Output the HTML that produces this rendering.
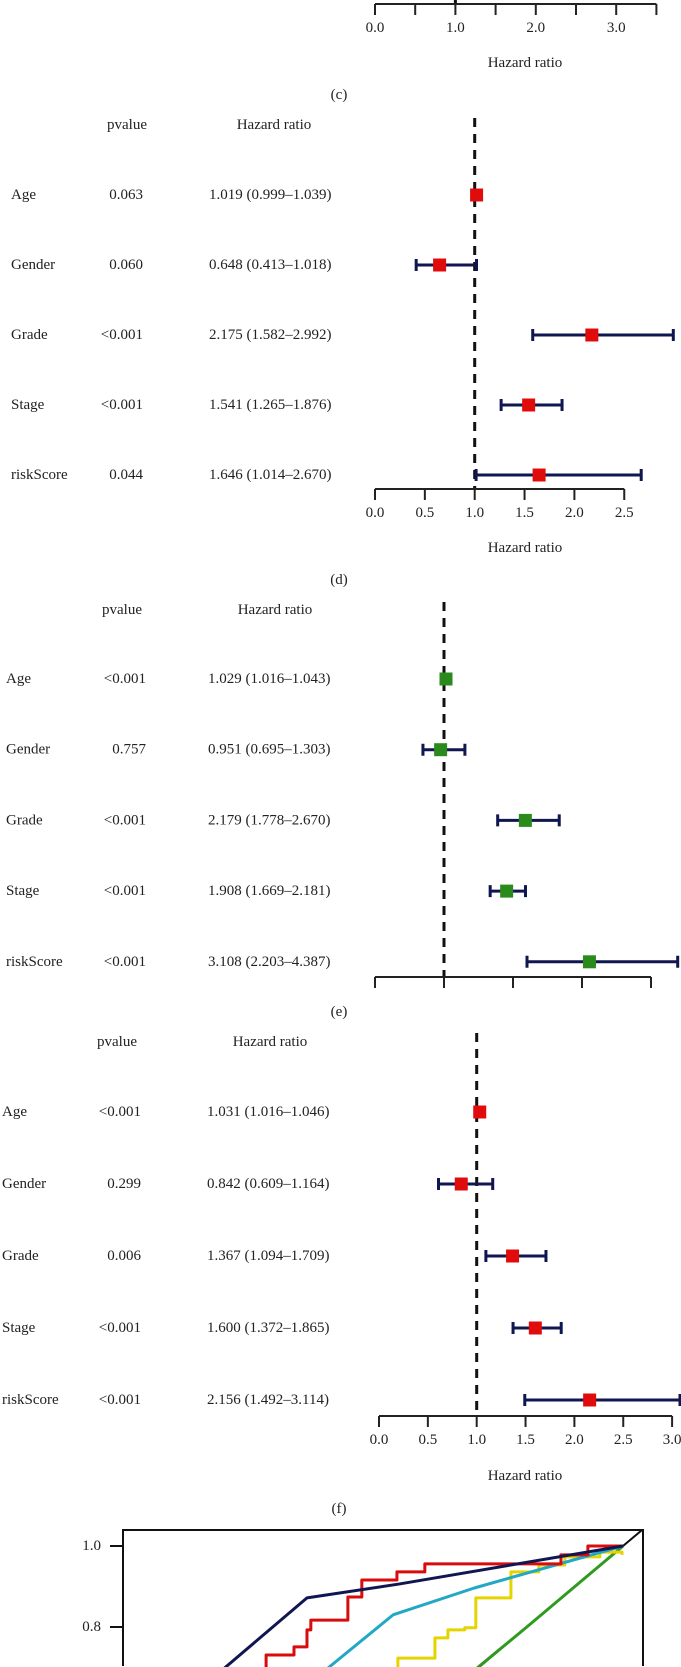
<!DOCTYPE html>
<html><head><meta charset="utf-8">
<style>
html,body{margin:0;padding:0;background:#fff;overflow:hidden;width:681px;height:1667px;}
svg{display:block;overflow:hidden;}
text{font-family:"Liberation Serif",serif;font-size:15px;fill:#222;}
</style></head>
<body>
<svg id="fig" width="681" height="1667" viewBox="0 0 681 1667" xmlns="http://www.w3.org/2000/svg"></svg>
<script>
// ---- Panel (d) data ----
const dVars = ["Age","Gender","Grade","Stage","riskScore"];
const dP = ["0.063","0.060","<0.001","<0.001","0.044"];
const dHR = [1.019,0.648,2.175,1.541,1.646];
const dLo = [0.999,0.413,1.582,1.265,1.014];
const dHi = [1.039,1.018,2.992,1.876,2.670];
const dTicks = [0,0.5,1,1.5,2,2.5];
const dTickLabels = ["0.0","0.5","1.0","1.5","2.0","2.5"];
// ---- Panel (e) data ----
const eVars = ["Age","Gender","Grade","Stage","riskScore"];
const eP = ["<0.001","0.757","<0.001","<0.001","<0.001"];
const eHR = [1.029,0.951,2.179,1.908,3.108];
const eLo = [1.016,0.695,1.778,1.669,2.203];
const eHi = [1.043,1.303,2.670,2.181,4.387];
const eTicks = [0,1,2,3,4];
const eTickLabels = [];
// ---- Panel (f) data ----
const fVars = ["Age","Gender","Grade","Stage","riskScore"];
const fP = ["<0.001","0.299","0.006","<0.001","<0.001"];
const fHR = [1.031,0.842,1.367,1.600,2.156];
const fLo = [1.016,0.609,1.094,1.372,1.492];
const fHi = [1.046,1.164,1.709,1.865,3.114];
const fTicks = [0,0.5,1,1.5,2,2.5,3];
const fTickLabels = ["0.0","0.5","1.0","1.5","2.0","2.5","3.0"];
// ---- Panel (c) axis only ----
const cTicks = [0,0.5,1,1.5,2,2.5,3,3.5];
const cTickLabels = ["0.0","","1.0","","2.0","","3.0",""];
// ---- ROC data (fpr / tpr) ----
const rocNavyX = [0.163,0.343,0.534,1];
const rocNavyY = [0.69,0.872,0.906,1];
const rocRedX = [0.258,0.258,0.316,0.343,0.351,0.428,0.457,0.530,0.588,0.871,0.927,1];
const rocRedY = [0.69,0.731,0.751,0.793,0.817,0.874,0.916,0.936,0.956,0.978,1,1];
const rocCyanX = [0.378,0.389,0.522,0.69,1];
const rocCyanY = [0.69,0.701,0.830,0.896,1];
const rocYellowX = [0.499,0.532,0.549,0.609,0.636,0.671,0.694,0.717,0.767,0.825,0.879,0.952,0.998];
const rocYellowY = [0.69,0.723,0.723,0.773,0.793,0.798,0.872,0.872,0.936,0.953,0.973,0.985,0.978];
const rocGreenX = [0.69,0.699,0.8,0.9,1];
const rocGreenY = [0.69,0.701,0.8,0.9,1];
const rocYTicks = [0.8,1.0];
const rocYTickLabels = ["0.8","1.0"];

const NS="http://www.w3.org/2000/svg";
const svg=document.getElementById('fig');
function mk(tag,attrs,parent){const e=document.createElementNS(NS,tag);for(const k in attrs)e.setAttribute(k,attrs[k]);(parent||svg).appendChild(e);return e;}
function txt(s,x,y,anchor,parent){const t=mk('text',{x:x,y:y,'text-anchor':anchor||'start','dominant-baseline':'central'},parent);t.textContent=s;return t;}
const NAVY="#101650",RED="#e00c0c",GREEN="#2b8a1c";

function forest(cfg){
  const g=mk('g',{});
  
  
  const sx=v=>cfg.x0+v*cfg.unit;
  if(cfg.vars){
    const h1=txt("pvalue",cfg.pvHeadX,cfg.headY,'middle',g);
    
    
    const h2=txt("Hazard ratio",cfg.hrHeadX,cfg.headY,'middle',g);
    
    
    cfg.vars.forEach((v,i)=>{
      const y=cfg.rowY0+i*cfg.rowStep;
      const a=txt(v,cfg.labX,y,'start',g);
      
      
      const b=txt(cfg.p[i],cfg.pvRight,y,'end',g);
      
      
      const c=txt(cfg.hr[i].toFixed(3)+" ("+cfg.lo[i].toFixed(3)+"\u2013"+cfg.hi[i].toFixed(3)+")",cfg.hrX,y,'start',g);
      
      
    });
  }
  const dl=mk('line',{x1:sx(1),x2:sx(1),y1:cfg.dashTop,y2:cfg.axisY,stroke:'#111','stroke-width':3,'stroke-dasharray':'9,7'},g);
  
  
  if(cfg.vars){
    cfg.vars.forEach((v,i)=>{
      const y=cfg.rowY0+i*cfg.rowStep;
      const lo=sx(cfg.lo[i]),hi=Math.min(sx(cfg.hi[i]),680);
      const ci=mk('path',{d:`M${lo},${y}H${hi}M${lo},${y-6}V${y+6}M${hi},${y-6}V${y+6}`,stroke:NAVY,'stroke-width':3,fill:'none'},g);
      
      
      const sq=mk('rect',{x:sx(cfg.hr[i])-6.5,y:y-6.5,width:13,height:13,fill:cfg.color},g);
      
      
    });
  }
  const t0=sx(cfg.ticks[0]),t1=sx(cfg.ticks[cfg.ticks.length-1]);
  let d=`M${t0},${cfg.axisY}H${t1}`;
  cfg.ticks.forEach(t=>{d+=`M${sx(t)},${cfg.axisY}V${cfg.axisY+11}`;});
  const ax=mk('path',{d:d,stroke:'#222','stroke-width':2,fill:'none'},g);
  
  
  cfg.tickLabels.forEach((l,i)=>{ if(l){const t=txt(l,sx(cfg.ticks[i]),cfg.axisY+24,'middle',g);
    
    }});
  if(cfg.titleY){const t=txt("Hazard ratio",525,cfg.titleY,'middle',g);
    
    }
  if(cfg.panel){const t=txt(cfg.panel,339,cfg.panelY,'middle',g);
    
    }
}

forest({name:'forest-c',x0:375,unit:80.4,axisY:4,dashTop:0,ticks:cTicks,tickLabels:cTickLabels,titleY:63,panel:"(c)",panelY:95,color:RED});
forest({name:'forest-d',vars:dVars,p:dP,hr:dHR,lo:dLo,hi:dHi,x0:375,unit:99.7,axisY:489,dashTop:118,ticks:dTicks,tickLabels:dTickLabels,
  headY:125,pvHeadX:127,hrHeadX:274,rowY0:195,rowStep:70,labX:11,pvRight:143,hrX:209,titleY:548,panel:"(d)",panelY:580,color:RED});
forest({name:'forest-e',vars:eVars,p:eP,hr:eHR,lo:eLo,hi:eHi,x0:375,unit:69,axisY:977,dashTop:602,ticks:eTicks,tickLabels:eTickLabels,
  headY:610,pvHeadX:122,hrHeadX:275,rowY0:679,rowStep:70.7,labX:6,pvRight:146,hrX:208,titleY:0,panel:"(e)",panelY:1012,color:GREEN});
forest({name:'forest-f',vars:fVars,p:fP,hr:fHR,lo:fLo,hi:fHi,x0:379,unit:97.7,axisY:1416,dashTop:1033,ticks:fTicks,tickLabels:fTickLabels,
  headY:1042,pvHeadX:117,hrHeadX:270,rowY0:1112,rowStep:72,labX:2,pvRight:141,hrX:207,titleY:1476,panel:"(f)",panelY:1509,color:RED});

// ---- ROC ----
const rx=v=>142+v*481, ry=v=>1951-v*405;
const roc=mk('g',{});


const cp=mk('clipPath',{id:'rc'},roc);
mk('rect',{x:123,y:1530,width:520,height:137},cp);
const cg=mk('g',{'clip-path':'url(#rc)'},roc);
const diag=mk('line',{x1:rx(0.69),y1:ry(0.69),x2:rx(1.04),y2:ry(1.04),stroke:'#111','stroke-width':2},cg);


function poly(xs,ys,col,name,step){
  let d=`M${rx(xs[0])},${ry(ys[0])}`;
  for(let i=1;i<xs.length;i++){
    if(step){d+=`H${rx(xs[i])}V${ry(ys[i])}`;}else{d+=`L${rx(xs[i])},${ry(ys[i])}`;}
  }
  const p=mk('path',{d:d,stroke:col,'stroke-width':3,fill:'none','stroke-linejoin':'round'},cg);
  
  
}
poly(rocGreenX,rocGreenY,'#2e9a1e','roc-green');
poly(rocYellowX,rocYellowY,'#e6d400','roc-yellow',true);
poly(rocCyanX,rocCyanY,'#22a8c4','roc-cyan');
poly(rocRedX,rocRedY,'#d80c0c','roc-red',true);
poly(rocNavyX,rocNavyY,NAVY,'roc-navy');
const box=mk('path',{d:'M123,1666V1530H643V1666',fill:'none',stroke:'#111','stroke-width':2},roc);


rocYTicks.forEach((t,i)=>{
  const l=mk('line',{x1:110,x2:123,y1:ry(t),y2:ry(t),stroke:'#111','stroke-width':2},roc);
  
  
  const tt=txt(rocYTickLabels[i],101,ry(t),'end',roc);
  
  
});
</script>
</body></html>
